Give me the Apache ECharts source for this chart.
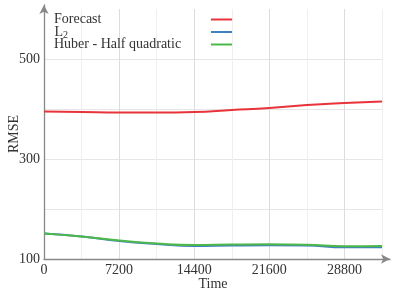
<!DOCTYPE html>
<html><head><meta charset="utf-8">
<script src="https://cdn.jsdelivr.net/npm/echarts@6/dist/echarts.min.js"></script>
<style>html,body{margin:0;padding:0;background:#fff}#c{width:395px;height:291px}</style>
</head><body><div id="c"></div>
<script>
var times = [0, 3600, 7200, 10800, 14400, 18000, 21600, 25200, 28800, 32400];
var forecast = [395, 394, 393, 393, 394, 398, 402, 408, 412, 415];
var l2 = [151, 145, 136, 130, 126, 127, 127.5, 127, 123.5, 123.5];
var huber = [151, 145, 137, 131, 128, 129, 129.5, 128.5, 125.5, 126];
var seriesNames = ['Forecast', 'L2', 'Huber - Half quadratic'];
var xTickLabels = ['0', '7200', '14400', '21600', '28800'];
var yTickLabels = ['100', '300', '500'];

var font = 'Liberation Serif';
function pairs(v){ return times.map(function(t,i){ return [t, v[i]]; }); }
var chart = echarts.init(document.getElementById('c'), null, {renderer:'canvas'});
chart.setOption({
  animation: false,
  grid: [
    {left: 44, right: 13, top: 9, bottom: 32, containLabel: false, outerBoundsMode: 'none'},
    {left: 44, right: 5, top: 5, bottom: 32, containLabel: false, outerBoundsMode: 'none'}
  ],
  legend: {
    orient: 'vertical', left: 54, top: 12.5, align: 'right',
    itemWidth: 21, itemHeight: 2, itemGap: -3, padding: 0,
    icon: 'rect',
    textStyle: {fontFamily: font, fontSize: 14, color: '#333', lineHeight: 12,
      rich: {
        t: {fontFamily: font, fontSize: 14, color: '#333', width: 152, align: 'left', lineHeight: 12},
        l: {fontFamily: font, fontSize: 14, color: '#333', lineHeight: 12},
        s: {fontFamily: font, fontSize: 10, color: '#333', lineHeight: 5, padding: [7, 0, 0, 0]},
        p: {fontSize: 14, lineHeight: 12, width: 138}
      }},
    formatter: function(n){ return n === 'L2' ? '{l|L}{s|2}{p| }' : '{t|' + n + '}'; },
    data: seriesNames
  },
  xAxis: [
    {type: 'value', gridIndex: 0, min: 0, max: 32400, interval: 3600,
     axisLine: {show: false}, axisTick: {show: false},
     axisLabel: {fontFamily: font, fontSize: 14, color: '#333', margin: 4,
       formatter: function(v){ var s = String(v); return xTickLabels.indexOf(s) >= 0 ? s : ''; }},
     splitLine: {show: true, lineStyle: {color: ['#dcdcdc', '#efefef'], width: 1}},
     name: 'Time', nameLocation: 'middle', nameGap: 18, nameMoveOverlap: false,
     nameTextStyle: {fontFamily: font, fontSize: 14, color: '#333'}},
    {type: 'value', gridIndex: 1, min: 0, max: 1,
     axisLine: {show: true, symbol: ['none', 'arrow'], symbolSize: [7, 9], lineStyle: {color: '#888', width: 1.3}},
     axisTick: {show: false}, axisLabel: {show: false}, splitLine: {show: false}}
  ],
  yAxis: [
    {type: 'value', gridIndex: 0, min: 100, max: 600, interval: 100,
     axisLine: {show: false}, axisTick: {show: false},
     axisLabel: {fontFamily: font, fontSize: 14, color: '#333', margin: 4,
       formatter: function(v){ var s = String(v); return yTickLabels.indexOf(s) >= 0 ? s : ''; }},
     splitLine: {show: true, showMaxLine: false, lineStyle: {color: '#e6e6e6', width: 1}},
     name: 'RMSE', nameLocation: 'middle', nameGap: 23, nameRotate: 90, nameMoveOverlap: false,
     nameTextStyle: {fontFamily: font, fontSize: 14, color: '#333'}},
    {type: 'value', gridIndex: 1, min: 0, max: 1,
     axisLine: {show: true, symbol: ['none', 'arrow'], symbolSize: [7, 9], lineStyle: {color: '#888', width: 1.3}},
     axisTick: {show: false}, axisLabel: {show: false}, splitLine: {show: false}}
  ],
  series: [
    {name: seriesNames[0], type: 'line', smooth: true, showSymbol: false, data: pairs(forecast),
     xAxisIndex: 0, yAxisIndex: 0, color: '#e8333b', lineStyle: {width: 2}},
    {name: seriesNames[1], type: 'line', smooth: true, showSymbol: false, data: pairs(l2),
     xAxisIndex: 0, yAxisIndex: 0, color: '#3f80c0', lineStyle: {width: 2}},
    {name: seriesNames[2], type: 'line', smooth: true, showSymbol: false, data: pairs(huber),
     xAxisIndex: 0, yAxisIndex: 0, color: '#4db84a', lineStyle: {width: 2}}
  ]
});
</script></body></html>
